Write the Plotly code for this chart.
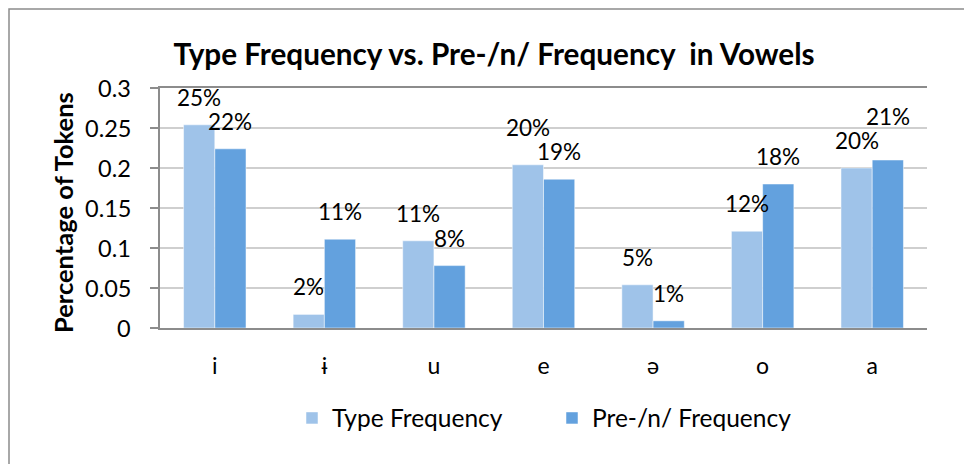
import plotly.graph_objects as go

categories = ["i", "ɨ", "u", "e", "ə", "o", "a"]
type_freq = [0.254, 0.017, 0.109, 0.204, 0.054, 0.121, 0.200]
pre_n_freq = [0.224, 0.111, 0.078, 0.186, 0.009, 0.180, 0.210]
y_ticks = [0, 0.05, 0.1, 0.15, 0.2, 0.25, 0.3]
y_tick_labels = ["0", "0.05", "0.1", "0.15", "0.2", "0.25", "0.3"]

FONT = "Lato"
W, H = 972, 464
# page is offset by the 8px body margin
L, R, T, B = 152, 53, 80, 144
pw = W - L - R
ph = H - T - B
Y_MAX = 0.3
BARGAP = 0.43
LABEL_SIZE = 22.5
GAP = 18          # px between bar top and label glyph bottom
CAP = 17          # approx glyph height of a label
CLEAR = 7         # min vertical clearance between two labels of a group
DESC = 6          # descent + pad below glyph baseline in annotation box
TICK_RIGHT = 125  # right edge of y tick labels (figure px)

colors = {"Type Frequency": "#9fc3e9", "Pre-/n/ Frequency": "#63a1de"}

fig = go.Figure()
fig.add_trace(go.Bar(x=categories, y=type_freq, name="Type Frequency",
                     marker=dict(color=colors["Type Frequency"],
                                 line=dict(color="white", width=0.5))))
fig.add_trace(go.Bar(x=categories, y=pre_n_freq, name="Pre-/n/ Frequency",
                     marker=dict(color=colors["Pre-/n/ Frequency"],
                                 line=dict(color="white", width=0.5))))

# data labels, placed above each bar; the taller bar's label is lifted
# so that it clears the neighbouring label (as in the reference)
px_per_unit = ph / Y_MAX
half_bar = pw / len(categories) * (1 - BARGAP) / 4
for cat, tv, pv in zip(categories, type_freq, pre_n_freq):
    lo, hi = min(tv, pv), max(tv, pv)
    lift_hi = max(GAP, lo * px_per_unit + GAP + CAP + CLEAR - hi * px_per_unit)
    for val, side in ((tv, -1), (pv, 1)):
        lift = lift_hi if (val == hi and tv != pv) else GAP
        fig.add_annotation(
            x=cat, y=val, xref="x", yref="y", text=f"{round(val * 100)}%",
            showarrow=False, xanchor="center", yanchor="bottom",
            xshift=side * half_bar, yshift=lift - DESC,
            font=dict(family=FONT, size=LABEL_SIZE, color="black"),
        )

# y tick labels (drawn as text so their gap to the axis matches)
for v, lab in zip(y_ticks, y_tick_labels):
    fig.add_annotation(
        x=(TICK_RIGHT - L) / pw, xref="paper", y=v, yref="y", text=lab,
        showarrow=False, xanchor="right", yanchor="middle",
        font=dict(family=FONT, size=23.5, color="black"),
    )

fig.update_layout(
    width=W, height=H,
    margin=dict(l=L, r=R, t=T, b=B),
    paper_bgcolor="white", plot_bgcolor="white",
    barmode="group", bargap=BARGAP, bargroupgap=0,
    font=dict(family=FONT, size=22, color="black"),
    title=dict(text="<b>Type Frequency vs. Pre-/n/ Frequency  in Vowels</b>",
               x=(494 - 8) / W, xanchor="center", y=1 - 47 / H, yanchor="middle",
               font=dict(family=FONT, size=29.7, color="black")),
    legend=dict(orientation="h", x=(284 - L) / pw, xanchor="left",
                y=-(410 - (T + ph)) / ph, yanchor="middle",
                font=dict(family=FONT, size=24.5),
                itemwidth=30, entrywidth=215, entrywidthmode="pixels",
                traceorder="normal"),
    showlegend=True,
)
fig.update_yaxes(
    range=[0, Y_MAX], tickvals=y_ticks, showticklabels=False,
    showgrid=True, gridcolor="#cfcfcf", gridwidth=1.5,
    showline=True, linecolor="#8c8c8c", linewidth=2,
    ticks="outside", ticklen=8, tickcolor="#8c8c8c", tickwidth=1.5,
    zeroline=False, automargin=False,
)
fig.update_xaxes(
    showline=True, linecolor="#8c8c8c", linewidth=2, mirror=True,
    ticks="", tickfont=dict(family=FONT, size=23), ticklabelstandoff=16,
    automargin=False,
)
# y axis title
fig.add_annotation(
    text="<b>Percentage of Tokens</b>", textangle=-90,
    xref="paper", yref="paper", x=(55 - L) / pw, y=(T + ph - 205) / ph,
    xanchor="center", yanchor="middle", showarrow=False,
    font=dict(family=FONT, size=25.5, color="black"),
)
# outer chart frame
fig.add_shape(type="rect", xref="paper", yref="paper",
              x0=(1 - L) / pw, x1=(958 - L) / pw,
              y0=-(H + 10 - T - ph) / ph, y1=1 + (T - 1) / ph,
              line=dict(color="#8c8c8c", width=1.5), fillcolor="rgba(0,0,0,0)",
              layer="below")

fig.write_html("out.html")
